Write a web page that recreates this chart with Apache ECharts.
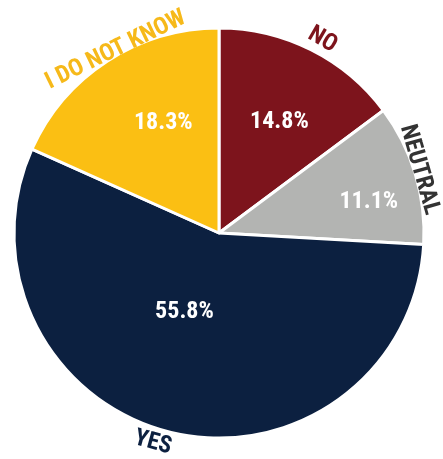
<!DOCTYPE html>
<html>
<head>
<meta charset="utf-8">
<script src="https://cdn.jsdelivr.net/npm/echarts@6/dist/echarts.min.js"></script>
<style>
html, body { margin: 0; padding: 0; background: #fff; }
#pie { width: 443px; height: 459px; }
</style>
</head>
<body>
<div id="pie"></div>
<script>
// 数据
var categories = ['NO', 'NEUTRAL', 'YES', 'I DO NOT KNOW'];
var percents = [14.8, 11.1, 55.8, 18.3];
var sliceColors = ['#7d141c', '#b3b4b2', '#0c2040', '#fbbf13'];
var nameColors = ['#7d141c', '#333333', '#0c2040', '#f6b91a'];
// 标签微调：相对扇区中线的角度偏移（度）、离圆心距离（px）
var pctNudge = [[2, 126], [5, 153], [10, 86], [6, 123]];
var nameNudge = [[1.5, 219], [-0.8, 210], [3.8, 220], [3.5, 210]];
var nameRotate = [-30, -74, -15, 26];

var cx = 219, cy = 233, R = 205;
var fontCond = 'Roboto Condensed, Liberation Sans Narrow, DejaVu Sans Condensed, sans-serif';

var pieData = [], nameData = [], midAngle = [];
var total = 0, acc = 0;
for (var i = 0; i < percents.length; i++) total += percents[i];
for (var i = 0; i < categories.length; i++) {
    midAngle.push((acc + percents[i] / 2) / total * 360);
    acc += percents[i];
    pieData.push({ name: categories[i], value: percents[i], itemStyle: { color: sliceColors[i] } });
    nameData.push({ name: categories[i], value: percents[i], label: { color: nameColors[i], rotate: nameRotate[i] } });
}

function polar(table, idx) {
    var rad = (midAngle[idx] + table[idx][0]) * Math.PI / 180, dist = table[idx][1];
    return [cx + dist * Math.sin(rad), cy - dist * Math.cos(rad)];
}

// 百分比标签：平移
function nudgePct(p) {
    var r = p.labelRect;
    var lx = r.x + r.width / 2, ly = r.y + r.height / 2;
    var t = polar(pctNudge, p.dataIndex);
    return { dx: t[0] - lx, dy: t[1] - ly };
}

// 名称标签：直接定位
function placeName(p) {
    var t = polar(nameNudge, p.dataIndex);
    return { x: t[0], y: t[1] };
}

var myChart = echarts.init(document.getElementById('pie'));
window.onresize = myChart.resize;

var option = {
    animation: false,
    series: [{
        type: 'pie',
        center: [cx, cy],
        radius: [0, R],
        startAngle: 90,
        clockwise: true,
        data: pieData,
        itemStyle: { borderColor: '#fff', borderWidth: 3 },
        label: {
            show: true,
            position: 'inside',
            formatter: function (p) { return p.value.toFixed(1) + '%'; },
            color: '#fff',
            fontSize: 24,
            fontWeight: 'bold',
            fontFamily: fontCond
        },
        labelLine: { show: false },
        labelLayout: nudgePct,
        emphasis: { disabled: true }
    }, {
        type: 'pie',
        center: [cx, cy],
        radius: [R, R + 24],
        startAngle: 90,
        clockwise: true,
        silent: true,
        data: nameData,
        itemStyle: { color: 'rgba(0,0,0,0)' },
        label: {
            show: true,
            position: 'inside',
            formatter: '{b}',
            fontSize: 24,
            fontWeight: 'bold',
            fontFamily: fontCond
        },
        labelLine: { show: false },
        labelLayout: placeName,
        emphasis: { disabled: true }
    }]
};
myChart.setOption(option);
</script>
</body>
</html>
